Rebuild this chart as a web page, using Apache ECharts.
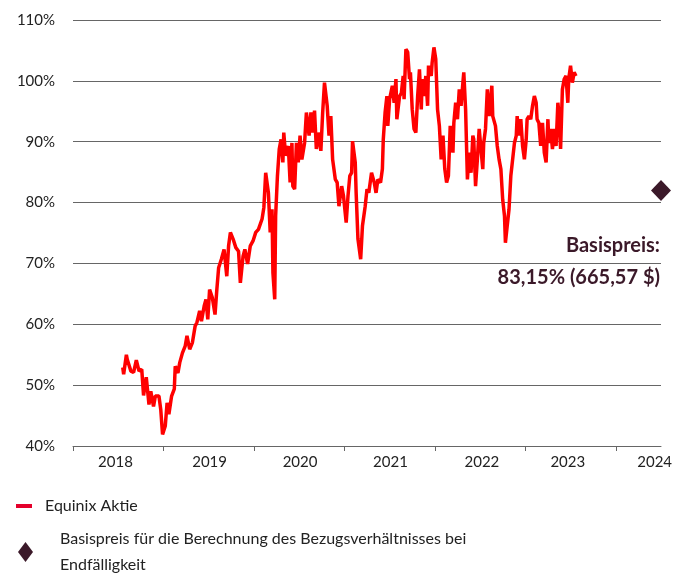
<!DOCTYPE html>
<html>

<head>
    <meta charset="utf-8">
    <title>Equinix Aktie</title>
    <script src="https://cdn.jsdelivr.net/npm/echarts@6/dist/echarts.min.js"></script>
</head>

<body style="margin:0;">
    <div id="main" style="width: 685px;height:575px;"></div>
    <script type="text/javascript">

    // Zeitpunkte (Dezimaljahre) und Kurs in % des Referenzwerts
    var aktieJahre = [
        2018.55, 2018.56, 2018.59, 2018.60, 2018.64, 2018.67, 2018.70, 2018.73, 2018.76, 2018.78,
        2018.81, 2018.84, 2018.86, 2018.89, 2018.91, 2018.95, 2018.97, 2018.99, 2019.02, 2019.04,
        2019.06, 2019.09, 2019.12, 2019.13, 2019.16, 2019.18, 2019.21, 2019.24, 2019.26, 2019.29,
        2019.32, 2019.35, 2019.37, 2019.40, 2019.42, 2019.45, 2019.47, 2019.49, 2019.51, 2019.54,
        2019.57, 2019.59, 2019.61, 2019.64, 2019.67, 2019.70, 2019.72, 2019.74, 2019.77, 2019.80,
        2019.83, 2019.85, 2019.88, 2019.90, 2019.93, 2019.96, 2019.99, 2020.02, 2020.05, 2020.09,
        2020.11, 2020.13, 2020.16, 2020.18, 2020.20, 2020.21, 2020.23, 2020.24, 2020.26, 2020.28,
        2020.30, 2020.32, 2020.33, 2020.35, 2020.38, 2020.40, 2020.42, 2020.43, 2020.45, 2020.47,
        2020.49, 2020.51, 2020.53, 2020.56, 2020.58, 2020.61, 2020.63, 2020.65, 2020.67, 2020.69,
        2020.71, 2020.74, 2020.76, 2020.78, 2020.81, 2020.83, 2020.85, 2020.87, 2020.90, 2020.92,
        2020.94, 2020.97, 2020.99, 2021.02, 2021.04, 2021.06, 2021.08, 2021.09, 2021.12, 2021.13,
        2021.15, 2021.18, 2021.20, 2021.23, 2021.25, 2021.27, 2021.30, 2021.33, 2021.35, 2021.37,
        2021.40, 2021.42, 2021.43, 2021.45, 2021.47, 2021.48, 2021.50, 2021.53, 2021.55, 2021.57,
        2021.58, 2021.61, 2021.63, 2021.65, 2021.66, 2021.68, 2021.70, 2021.72, 2021.73, 2021.75,
        2021.77, 2021.79, 2021.81, 2021.83, 2021.85, 2021.86, 2021.88, 2021.90, 2021.92, 2021.93,
        2021.96, 2021.97, 2021.99, 2022.01, 2022.03, 2022.05, 2022.07, 2022.09, 2022.11, 2022.13,
        2022.15, 2022.17, 2022.20, 2022.21, 2022.23, 2022.25, 2022.27, 2022.29, 2022.31, 2022.32,
        2022.34, 2022.36, 2022.38, 2022.40, 2022.42, 2022.43, 2022.45, 2022.47, 2022.49, 2022.51,
        2022.53, 2022.54, 2022.56, 2022.58, 2022.60, 2022.62, 2022.63, 2022.64, 2022.67, 2022.69,
        2022.71, 2022.73, 2022.75, 2022.77, 2022.78, 2022.80, 2022.82, 2022.84, 2022.86, 2022.88,
        2022.90, 2022.91, 2022.93, 2022.95, 2022.97, 2022.99, 2023.01, 2023.02, 2023.04, 2023.06,
        2023.08, 2023.10, 2023.12, 2023.13, 2023.15, 2023.17, 2023.19, 2023.21, 2023.23, 2023.25,
        2023.26, 2023.28, 2023.30, 2023.32, 2023.34, 2023.36, 2023.37, 2023.39, 2023.41, 2023.43,
        2023.45, 2023.47, 2023.48, 2023.50, 2023.52, 2023.54, 2023.56
    ];
    var aktieWerte = [
        52.9, 51.8, 55.0, 54.2, 52.3, 52.1, 54.1, 52.3, 52.6, 48.3,
        51.3, 46.8, 49.0, 46.5, 48.2, 48.2, 46.0, 41.9, 43.3, 47.1,
        45.2, 48.2, 49.4, 53.1, 52.0, 53.7, 55.3, 56.4, 58.1, 55.9,
        57.0, 59.7, 60.3, 62.2, 60.5, 63.0, 64.1, 60.8, 65.7, 64.4,
        61.6, 65.7, 69.3, 70.7, 72.3, 67.9, 72.9, 75.1, 74.0, 72.6,
        72.0, 66.8, 71.2, 72.3, 69.9, 72.9, 73.7, 75.1, 75.6, 77.3,
        79.2, 84.9, 81.6, 75.1, 78.9, 68.5, 64.1, 77.8, 84.4, 88.8,
        90.4, 86.6, 91.5, 87.7, 89.3, 83.3, 89.8, 82.7, 82.2, 89.8,
        86.6, 91.0, 87.1, 89.8, 94.8, 91.0, 94.8, 91.5, 95.1, 88.8,
        91.5, 88.5, 94.8, 99.7, 95.9, 91.0, 94.2, 87.1, 83.8, 83.3,
        79.4, 82.7, 81.1, 76.7, 81.1, 84.4, 84.9, 90.1, 86.6, 81.6,
        74.0, 70.7, 76.2, 79.4, 82.2, 81.6, 84.9, 83.3, 81.6, 83.8,
        83.3, 85.5, 90.4, 94.8, 97.5, 92.6, 97.0, 99.2, 96.4, 100.3,
        93.7, 97.5, 98.0, 100.8, 97.0, 105.2, 104.7, 100.3, 101.4, 95.3,
        92.1, 91.5, 97.5, 101.9, 95.3, 100.3, 97.5, 100.8, 95.9, 102.5,
        100.8, 103.0, 105.5, 103.6, 95.3, 92.6, 87.1, 91.0, 85.5, 83.3,
        84.4, 92.6, 88.2, 93.1, 96.4, 93.7, 98.6, 95.9, 99.7, 101.4,
        95.3, 83.8, 88.2, 84.9, 91.0, 90.4, 82.7, 87.1, 92.1, 88.8,
        85.5, 89.8, 92.1, 98.6, 94.2, 97.5, 99.2, 94.2, 92.6, 89.3,
        87.1, 85.5, 80.5, 77.8, 73.4, 76.2, 78.9, 84.4, 87.1, 89.8,
        91.0, 94.2, 91.0, 93.7, 89.3, 87.1, 90.4, 93.7, 94.2, 93.7,
        95.9, 97.5, 96.4, 93.7, 93.1, 89.3, 93.1, 88.2, 86.6, 93.7,
        89.8, 92.1, 88.8, 92.1, 89.3, 96.4, 94.8, 88.8, 98.6, 100.3,
        100.8, 96.4, 100.3, 102.5, 99.7, 101.4, 100.8
    ];

    // Basispreis-Punkt bei Endfälligkeit
    var basisJahr = [2024.5];
    var basisWert = [82];

    // Achsen
    var jahrTicks = [2018, 2019, 2020, 2021, 2022, 2023, 2024];
    var jahrLabelPos = [2018.47, 2019.51, 2020.51, 2021.51, 2022.52, 2023.47, 2024.43];

    var rot = '#ff0000';
    var dunkel = '#3b1929';
    var schrift = 'Lato, "Source Sans Pro", "Noto Sans", sans-serif';

    var myChart = echarts.init(document.getElementById('main'));

    var aktieDaten = aktieJahre.map(function (j, i) { return [j, aktieWerte[i]]; });
    var basisDaten = basisJahr.map(function (j, i) { return [j, basisWert[i]]; });

    var option = {
        animation: false,
        textStyle: { fontFamily: schrift },
        grid: { left: 73, right: 24, top: 20, bottom: 129 },
        legend: [{
            left: 16,
            top: 498,
            padding: 0,
            itemWidth: 16,
            itemHeight: 4,
            icon: 'rect',
            textStyle: { fontSize: 16, color: '#222', padding: [0, 0, 0, 8], fontFamily: schrift },
            data: [{ name: 'Equinix Aktie', itemStyle: { color: '#e4002b' } }]
        }, {
            left: 18,
            top: 526,
            padding: 0,
            itemWidth: 15,
            itemHeight: 20,
            icon: 'diamond',
            textStyle: { fontSize: 16, color: '#222', padding: [0, 0, 0, 22], lineHeight: 26, fontFamily: schrift },
            data: [{
                name: 'Basispreis für die Berechnung des Bezugsverhältnisses bei\nEndfälligkeit',
                itemStyle: { color: dunkel, opacity: 1 }
            }]
        }],
        xAxis: {
            type: 'value',
            min: 2018,
            max: 2024.5,
            splitLine: { show: false },
            axisLine: { show: true, onZero: false, lineStyle: { color: '#666', width: 1 } },
            axisTick: { show: true, length: 5, customValues: jahrTicks, lineStyle: { color: '#666' } },
            axisLabel: {
                customValues: jahrLabelPos,
                formatter: function (v) { return String(Math.floor(v)); },
                fontSize: 15,
                color: '#222',
                margin: 9,
                fontFamily: schrift
            }
        },
        yAxis: {
            type: 'value',
            min: 40,
            max: 110,
            interval: 10,
            axisLine: { show: false },
            axisTick: { show: false },
            splitLine: { lineStyle: { color: '#666', width: 1 } },
            axisLabel: {
                formatter: '{value}%',
                fontSize: 15,
                color: '#222',
                margin: 18,
                fontFamily: schrift
            }
        },
        graphic: [{
            type: 'text',
            right: 25,
            top: 236,
            style: { text: 'Basispreis:', font: 'bold 20px ' + schrift, fill: dunkel }
        }, {
            type: 'text',
            right: 25,
            top: 268,
            style: { text: '83,15% (665,57 $)', font: 'bold 20px ' + schrift, fill: dunkel }
        }],
        series: [{
            name: 'Equinix Aktie',
            type: 'line',
            data: aktieDaten,
            showSymbol: false,
            lineStyle: { color: rot, width: 3.5 },
            itemStyle: { color: rot }
        }, {
            name: 'Basispreis für die Berechnung des Bezugsverhältnisses bei\nEndfälligkeit',
            type: 'scatter',
            data: basisDaten,
            symbol: 'diamond',
            symbolSize: [20, 21],
            clip: false,
            itemStyle: { color: dunkel, opacity: 1 }
        }]
    };

    myChart.setOption(option);
    </script>
</body>

</html>
